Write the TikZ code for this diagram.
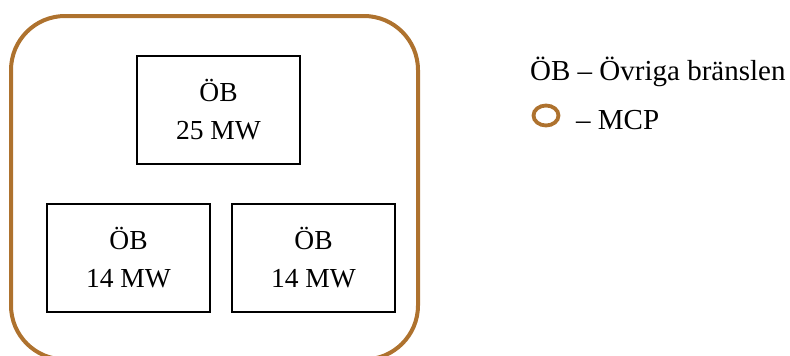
\documentclass[tikz,border=0pt]{standalone}
\usepackage{fontspec}
\setmainfont{Liberation Serif}
\definecolor{mcp}{RGB}{174,114,46}
\begin{document}
\begin{tikzpicture}[x=1pt,y=-1pt,
  obbox/.style={draw=black,line width=1.3pt,minimum width=163pt,minimum height=108pt,inner sep=0pt,
    align=center,font=\fontsize{27.5}{38}\selectfont},
  legend/.style={anchor=base west,inner sep=0pt,font=\fontsize{29}{34}\selectfont}]
\useasboundingbox (0,0) rectangle (790,356);
\draw[mcp,line width=4pt,rounded corners=54pt] (11,16) rectangle (418,359.5);
\node[obbox] (top) at (218.5,110) {ÖB\\25 MW};
\node[obbox] (bl) at (128.5,258) {ÖB\\14 MW};
\node[obbox] (br) at (313.5,258) {ÖB\\14 MW};
\node[legend] (l1) at (530,80) {ÖB – Övriga bränslen};
\coordinate (ell) at (546,115.5);
\draw[mcp,line width=3.8pt] (ell) ellipse (12.5pt and 10pt);
\node[legend] (l2) at (576,129) {– MCP};
\end{tikzpicture}
\end{document}
